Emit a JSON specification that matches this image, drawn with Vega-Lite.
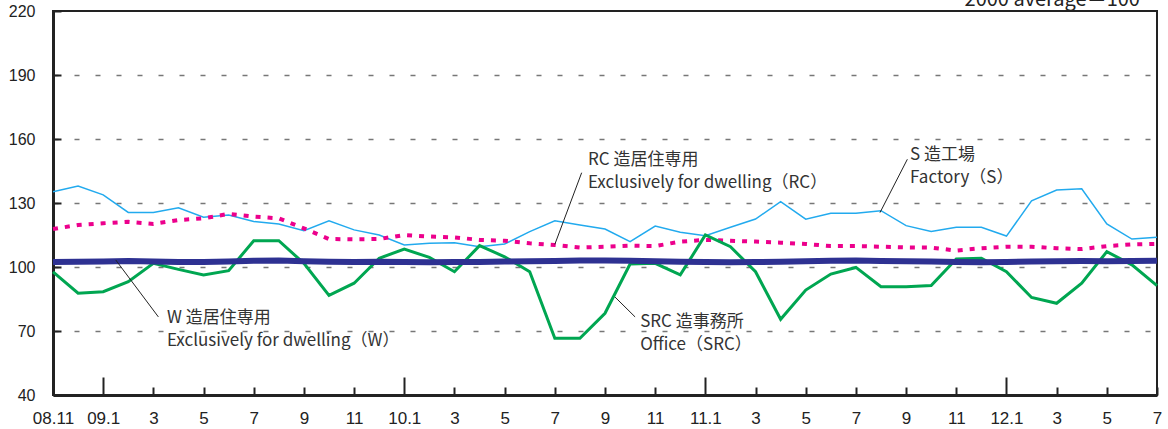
{
  "$schema": "https://vega.github.io/schema/vega-lite/v6.json",
  "autosize": {"type": "none"},
  "width": 1104,
  "height": 384,
  "padding": {"left": 53, "top": 11, "right": 11, "bottom": 34},
  "background": "white",
  "config": {
    "view": {"stroke": "#222", "strokeWidth": 2},
    "axis": {
      "domainColor": "#222", "domainWidth": 3, "tickColor": "#222", "tickWidth": 2,
      "labelFont": "Liberation Sans", "labelFontSize": 16, "labelColor": "#222",
      "title": null, "grid": false
    }
  },
  "data": {"values": [
    {"m": 0, "S": 135.3, "RC": 117.8, "SRC": 97.7, "W": 102.3},
    {"m": 1, "S": 138.0, "RC": 119.7, "SRC": 87.7, "W": 102.5},
    {"m": 2, "S": 133.8, "RC": 120.5, "SRC": 88.4, "W": 102.6},
    {"m": 3, "S": 125.6, "RC": 121.2, "SRC": 93.1, "W": 102.8},
    {"m": 4, "S": 125.6, "RC": 120.2, "SRC": 101.7, "W": 102.6},
    {"m": 5, "S": 127.8, "RC": 122.0, "SRC": 98.9, "W": 102.4},
    {"m": 6, "S": 123.3, "RC": 122.8, "SRC": 96.3, "W": 102.3},
    {"m": 7, "S": 124.4, "RC": 124.9, "SRC": 98.3, "W": 102.6},
    {"m": 8, "S": 121.3, "RC": 123.6, "SRC": 112.3, "W": 102.9},
    {"m": 9, "S": 120.2, "RC": 122.8, "SRC": 112.3, "W": 103.0},
    {"m": 10, "S": 117.0, "RC": 118.1, "SRC": 101.7, "W": 102.7},
    {"m": 11, "S": 121.7, "RC": 113.1, "SRC": 86.7, "W": 102.5},
    {"m": 12, "S": 117.4, "RC": 113.0, "SRC": 92.4, "W": 102.4},
    {"m": 13, "S": 115.0, "RC": 113.1, "SRC": 104.1, "W": 102.5},
    {"m": 14, "S": 110.3, "RC": 115.0, "SRC": 108.4, "W": 102.3},
    {"m": 15, "S": 111.1, "RC": 114.3, "SRC": 104.5, "W": 102.2},
    {"m": 16, "S": 111.4, "RC": 113.9, "SRC": 97.8, "W": 102.3},
    {"m": 17, "S": 109.5, "RC": 112.7, "SRC": 110.0, "W": 102.4},
    {"m": 18, "S": 110.8, "RC": 112.3, "SRC": 104.8, "W": 102.6},
    {"m": 19, "S": 116.6, "RC": 111.1, "SRC": 97.8, "W": 102.7},
    {"m": 20, "S": 121.7, "RC": 110.3, "SRC": 66.6, "W": 102.8},
    {"m": 21, "S": 119.7, "RC": 109.1, "SRC": 66.6, "W": 103.0},
    {"m": 22, "S": 117.8, "RC": 109.5, "SRC": 78.3, "W": 103.1},
    {"m": 23, "S": 111.9, "RC": 110.0, "SRC": 101.4, "W": 102.9},
    {"m": 24, "S": 119.2, "RC": 109.8, "SRC": 101.7, "W": 102.7},
    {"m": 25, "S": 116.3, "RC": 111.9, "SRC": 96.3, "W": 102.5},
    {"m": 26, "S": 114.7, "RC": 112.7, "SRC": 115.0, "W": 102.3},
    {"m": 27, "S": 118.6, "RC": 112.3, "SRC": 109.5, "W": 102.2},
    {"m": 28, "S": 122.5, "RC": 111.9, "SRC": 97.8, "W": 102.3},
    {"m": 29, "S": 130.6, "RC": 111.4, "SRC": 75.5, "W": 102.5},
    {"m": 30, "S": 122.4, "RC": 110.8, "SRC": 89.2, "W": 102.7},
    {"m": 31, "S": 125.2, "RC": 109.8, "SRC": 96.7, "W": 102.9},
    {"m": 32, "S": 125.2, "RC": 109.8, "SRC": 99.8, "W": 103.0},
    {"m": 33, "S": 126.4, "RC": 109.5, "SRC": 90.8, "W": 102.8},
    {"m": 34, "S": 119.4, "RC": 109.2, "SRC": 90.8, "W": 102.7},
    {"m": 35, "S": 116.6, "RC": 109.1, "SRC": 91.3, "W": 102.6},
    {"m": 36, "S": 118.6, "RC": 107.7, "SRC": 103.8, "W": 102.4},
    {"m": 37, "S": 118.6, "RC": 108.8, "SRC": 104.1, "W": 102.2},
    {"m": 38, "S": 114.5, "RC": 109.5, "SRC": 97.8, "W": 102.3},
    {"m": 39, "S": 131.0, "RC": 109.5, "SRC": 85.7, "W": 102.6},
    {"m": 40, "S": 136.1, "RC": 108.8, "SRC": 83.0, "W": 102.7},
    {"m": 41, "S": 136.7, "RC": 108.4, "SRC": 92.4, "W": 102.8},
    {"m": 42, "S": 120.2, "RC": 109.8, "SRC": 107.2, "W": 102.7},
    {"m": 43, "S": 113.1, "RC": 110.6, "SRC": 101.0, "W": 102.8},
    {"m": 44, "S": 113.9, "RC": 110.8, "SRC": 91.3, "W": 102.9}
  ]},
  "layer": [
    {
      "mark": {"type": "line", "color": "#22aaee", "strokeWidth": 1.5},
      "encoding": {
        "x": {"field": "m", "type": "quantitative",
          "scale": {"domain": [0, 44], "nice": false, "zero": false},
          "axis": {
            "values": [0,1,2,3,4,5,6,7,8,9,10,11,12,13,14,15,16,17,18,19,20,21,22,23,24,25,26,27,28,29,30,31,32,33,34,35,36,37,38,39,40,41,42,43,44],
            "tickSize": {"condition": {"test": "indexof([2,14,26,38], datum.value) >= 0", "value": -18}, "value": -8},
            "labelPadding": {"condition": {"test": "indexof([2,14,26,38], datum.value) >= 0", "value": 33}, "value": 23},
            "labelFontSize": 17,
            "labelFlush": false, "labelOverlap": false,
            "labelExpr": "datum.value % 2 != 0 ? '' : datum.value == 0 ? '08.11' : ((10 + datum.value) % 12 + 1) == 1 ? (floor((10 + datum.value) / 12) + 8 < 10 ? '0' : '') + (floor((10 + datum.value) / 12) + 8) + '.1' : '' + ((10 + datum.value) % 12 + 1)"
          }},
        "y": {"field": "S", "type": "quantitative",
          "scale": {"domain": [40, 220], "nice": false, "zero": false},
          "axis": {
            "values": [40,55,70,85,100,115,130,145,160,175,190,205,220],
            "tickSize": -8, "labelPadding": 26,
            "labelExpr": "(datum.value - 40) % 30 == 0 ? datum.label : ''",
            "grid": true, "gridDash": [5, 16], "gridColor": "#777", "gridWidth": 1.5,
            "gridOpacity": {"condition": {"test": "datum.value % 30 == 10 && datum.value > 40 && datum.value < 220", "value": 1}, "value": 0}
          }}
      }
    },
    {
      "mark": {"type": "line", "color": "#ec008c", "strokeWidth": 4, "strokeDash": [5, 7]},
      "encoding": {
        "x": {"field": "m", "type": "quantitative"},
        "y": {"field": "RC", "type": "quantitative"}
      }
    },
    {
      "mark": {"type": "line", "color": "#00a651", "strokeWidth": 3},
      "encoding": {
        "x": {"field": "m", "type": "quantitative"},
        "y": {"field": "SRC", "type": "quantitative"}
      }
    },
    {
      "mark": {"type": "line", "color": "#2e3192", "strokeWidth": 6},
      "encoding": {
        "x": {"field": "m", "type": "quantitative"},
        "y": {"field": "W", "type": "quantitative"}
      }
    },
    {
      "data": {"values": [{}]},
      "mark": {"type": "rule", "color": "#222", "strokeWidth": 1},
      "encoding": {
        "x": {"datum": 2.5, "type": "quantitative"}, "y": {"datum": 103.3, "type": "quantitative"},
        "x2": {"datum": 4.2}, "y2": {"datum": 76.6}
      }
    },
    {
      "data": {"values": [{}]},
      "mark": {"type": "rule", "color": "#222", "strokeWidth": 1},
      "encoding": {
        "x": {"datum": 22.4, "type": "quantitative"}, "y": {"datum": 85.9, "type": "quantitative"},
        "x2": {"datum": 23.2}, "y2": {"datum": 76.6}
      }
    },
    {
      "data": {"values": [{}]},
      "mark": {"type": "rule", "color": "#222", "strokeWidth": 1},
      "encoding": {
        "x": {"datum": 20.0, "type": "quantitative"}, "y": {"datum": 110.6, "type": "quantitative"},
        "x2": {"datum": 21.07}, "y2": {"datum": 144.2}
      }
    },
    {
      "data": {"values": [{}]},
      "mark": {"type": "rule", "color": "#222", "strokeWidth": 1},
      "encoding": {
        "x": {"datum": 32.96, "type": "quantitative"}, "y": {"datum": 125.5, "type": "quantitative"},
        "x2": {"datum": 34.05}, "y2": {"datum": 150.5}
      }
    },
    {
      "data": {"values": [{}]},
      "mark": {"type": "text", "font": "Noto Sans CJK JP", "fontSize": 17, "color": "#333", "align": "left", "baseline": "middle", "lineHeight": 23},
      "encoding": {
        "x": {"datum": 4.54, "type": "quantitative"}, "y": {"datum": 76.1, "type": "quantitative"},
        "text": {"value": ["W 造居住専用", "Exclusively for dwelling（W）"]}
      }
    },
    {
      "data": {"values": [{}]},
      "mark": {"type": "text", "font": "Noto Sans CJK JP", "fontSize": 17, "color": "#333", "align": "left", "baseline": "middle", "lineHeight": 23},
      "encoding": {
        "x": {"datum": 23.4, "type": "quantitative"}, "y": {"datum": 74.4, "type": "quantitative"},
        "text": {"value": ["SRC 造事務所", "Office（SRC）"]}
      }
    },
    {
      "data": {"values": [{}]},
      "mark": {"type": "text", "font": "Noto Sans CJK JP", "fontSize": 17, "color": "#333", "align": "left", "baseline": "middle", "lineHeight": 23},
      "encoding": {
        "x": {"datum": 21.32, "type": "quantitative"}, "y": {"datum": 150.2, "type": "quantitative"},
        "text": {"value": ["RC 造居住専用", "Exclusively for dwelling（RC）"]}
      }
    },
    {
      "data": {"values": [{}]},
      "mark": {"type": "text", "font": "Noto Sans CJK JP", "fontSize": 17, "color": "#333", "align": "left", "baseline": "middle", "lineHeight": 23},
      "encoding": {
        "x": {"datum": 34.16, "type": "quantitative"}, "y": {"datum": 152.5, "type": "quantitative"},
        "text": {"value": ["S 造工場", "Factory（S）"]}
      }
    },
    {
      "data": {"values": [{}]},
      "mark": {"type": "text", "font": "Noto Sans CJK JP", "fontSize": 20, "color": "#222", "align": "right", "baseline": "alphabetic", "dy": -5},
      "encoding": {
        "x": {"datum": 43.32, "type": "quantitative"}, "y": {"datum": 220, "type": "quantitative"},
        "text": {"value": "2000 average＝100"}
      }
    }
  ]
}
